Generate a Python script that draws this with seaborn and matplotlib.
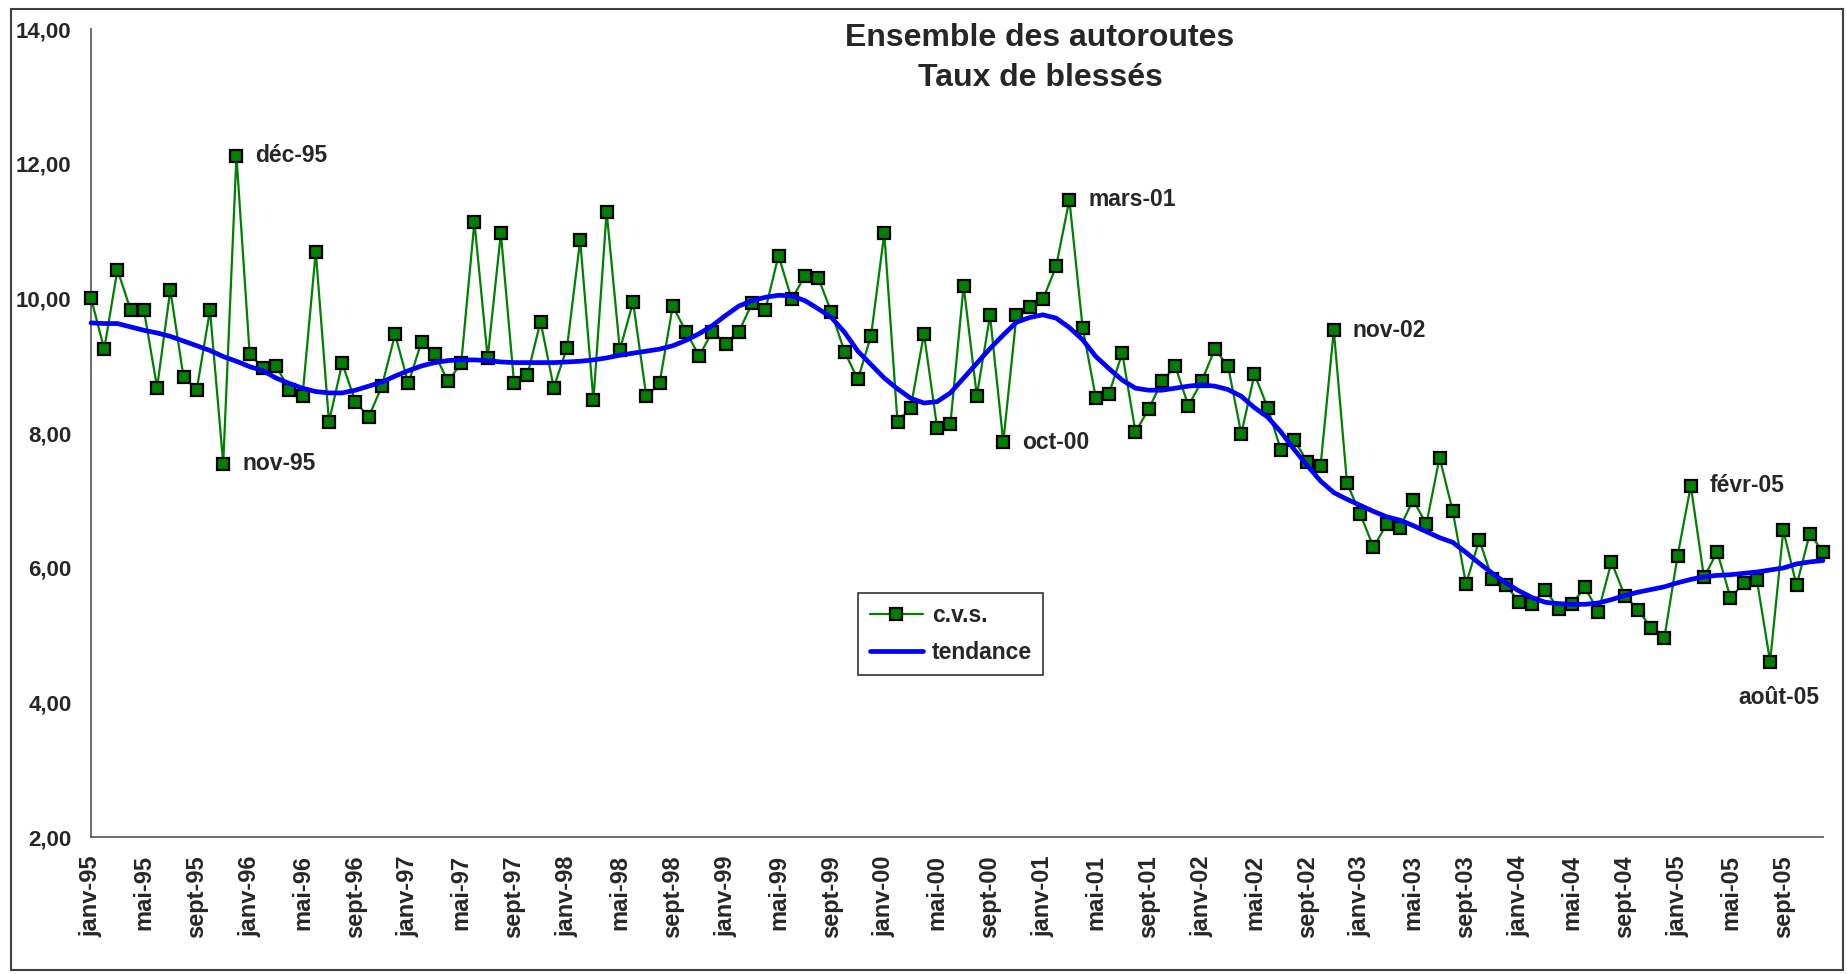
import numpy as np
import pandas as pd
import matplotlib
matplotlib.use("Agg")
import matplotlib.pyplot as plt
import seaborn as sns
from matplotlib.patches import Rectangle

# mois en français
mois_fr = ['janv', 'févr', 'mars', 'avr', 'mai', 'juin',
           'juil', 'août', 'sept', 'oct', 'nov', 'déc']
annees = list(range(1995, 2006))

# série corrigée des variations saisonnières (janv-95 -> déc-05)
cvs = [10.01, 9.25, 10.43, 9.83, 9.83, 8.68, 10.13, 8.83, 8.65, 9.83, 7.55, 12.12,
       9.18, 8.97, 9.00, 8.65, 8.56, 10.70, 8.17, 9.04, 8.47, 8.24, 8.70, 9.47,
       8.74, 9.36, 9.18, 8.77, 9.04, 11.14, 9.12, 10.97, 8.74, 8.86, 9.66, 8.68,
       9.27, 10.87, 8.49, 11.29, 9.24, 9.95, 8.55, 8.74, 9.89, 9.51, 9.15, 9.51,
       9.33, 9.51, 9.93, 9.83, 10.64, 9.99, 10.34, 10.31, 9.80, 9.21, 8.80, 9.45,
       10.97, 8.17, 8.38, 9.48, 8.08, 8.14, 10.19, 8.56, 9.75, 7.87, 9.75, 9.87,
       9.99, 10.48, 11.47, 9.57, 8.53, 8.59, 9.19, 8.02, 8.36, 8.77, 9.00, 8.41,
       8.77, 9.25, 9.00, 7.99, 8.88, 8.38, 7.75, 7.90, 7.58, 7.52, 9.53, 7.26,
       6.80, 6.31, 6.65, 6.60, 7.01, 6.65, 7.64, 6.84, 5.76, 6.42, 5.83, 5.75,
       5.50, 5.47, 5.68, 5.39, 5.47, 5.71, 5.35, 6.09, 5.59, 5.38, 5.11, 4.96,
       6.18, 7.22, 5.86, 6.24, 5.56, 5.77, 5.82, 4.61, 6.56, 5.74, 6.51, 6.24]

# tendance
tendance = [9.64, 9.63, 9.63, 9.58, 9.53, 9.49, 9.44, 9.37, 9.30, 9.23, 9.14, 9.07,
            8.99, 8.93, 8.82, 8.74, 8.67, 8.62, 8.60, 8.60, 8.64, 8.70, 8.76, 8.85,
            8.93, 9.00, 9.05, 9.08, 9.09, 9.09, 9.08, 9.06, 9.05, 9.05, 9.05, 9.05,
            9.06, 9.07, 9.09, 9.12, 9.16, 9.19, 9.22, 9.25, 9.30, 9.38, 9.48, 9.60,
            9.75, 9.89, 9.97, 10.02, 10.05, 10.04, 9.97, 9.85, 9.72, 9.50, 9.22, 9.02,
            8.82, 8.66, 8.52, 8.45, 8.47, 8.60, 8.82, 9.04, 9.26, 9.46, 9.65, 9.72,
            9.76, 9.71, 9.57, 9.39, 9.14, 8.96, 8.79, 8.67, 8.64, 8.64, 8.67, 8.70,
            8.72, 8.70, 8.65, 8.55, 8.38, 8.24, 8.02, 7.76, 7.52, 7.29, 7.12, 7.02,
            6.93, 6.84, 6.76, 6.71, 6.63, 6.54, 6.45, 6.38, 6.23, 6.07, 5.92, 5.78,
            5.66, 5.56, 5.49, 5.47, 5.46, 5.46, 5.48, 5.53, 5.59, 5.64, 5.68, 5.72,
            5.78, 5.83, 5.87, 5.89, 5.90, 5.92, 5.94, 5.97, 6.00, 6.06, 6.09, 6.11]

# points remarquables (indice du mois, texte)
points_notes = [(11, 'déc-95'), (10, 'nov-95'), (74, 'mars-01'), (69, 'oct-00'),
                (94, 'nov-02'), (121, 'févr-05'), (127, 'août-05')]

labels_mois = [f"{m}-{str(a)[2:]}" for a in annees for m in mois_fr]
df = pd.DataFrame({'idx': np.arange(len(cvs)), 'cvs': cvs, 'tendance': tendance,
                   'mois': labels_mois})

sns.set_style("white")
plt.rcParams['font.family'] = ['Liberation Sans', 'DejaVu Sans']
plt.rcParams['font.weight'] = 'bold'

fig = plt.figure(figsize=(18.47, 9.74), dpi=100)
ax = fig.add_axes([91/1847, 1 - 837.3/974, (1823 - 91)/1847, (837.3 - 29.3)/974])

sns.lineplot(data=df, x='idx', y='cvs', ax=ax, color='#008000', lw=1.6,
             marker='s', markersize=8, markerfacecolor='#008000',
             markeredgecolor='black', markeredgewidth=1.6, label='c.v.s.',
             zorder=3, clip_on=False)
sns.lineplot(data=df, x='idx', y='tendance', ax=ax, color='#0000FF', lw=3.4,
             label='tendance', zorder=4, clip_on=False)

ax.set_xlim(0, len(cvs) - 1)
ax.set_ylim(2, 14)
ax.set_yticks(np.arange(2, 15, 2))
ax.set_yticklabels([f"{v:.2f}".replace('.', ',') for v in np.arange(2, 15, 2)],
                   fontsize=16, fontweight='bold')
ticks_x = df['idx'][::4]
ax.set_xticks(ticks_x)
ax.set_xticklabels(df['mois'][::4], rotation=90, fontsize=17, fontweight='bold')
ax.tick_params(axis='both', direction='out', length=5, width=1.2, color='#606060')
ax.tick_params(axis='x', pad=8)
ax.tick_params(axis='y', pad=9)
ax.set_xlabel('')
ax.set_ylabel('')

for side in ['top', 'right']:
    ax.spines[side].set_visible(False)
for side in ['left', 'bottom']:
    ax.spines[side].set_color('#606060')
    ax.spines[side].set_linewidth(1.3)

# annotations
for i, txt in points_notes:
    if txt == 'août-05':
        ax.annotate(txt, (i, cvs[i]), xytext=(9, -36), textcoords='offset pixels',
                    ha='center', va='center', fontsize=16.5, fontweight='bold')
    else:
        ax.annotate(txt, (i, cvs[i]), xytext=(19, 0), textcoords='offset pixels',
                    ha='left', va='center', fontsize=16.5, fontweight='bold')

leg = ax.legend(loc='upper left', bbox_to_anchor=(0.4365, 0.317), frameon=True,
                fancybox=False, edgecolor='black', fontsize=16.5, handlelength=2.3,
                borderpad=0.5, labelspacing=0.6, handletextpad=0.4)
leg.get_frame().set_linewidth(1.2)
for t in leg.get_texts():
    t.set_fontweight('bold')

fig.text(1040/1847, 1 - 58/974, "Ensemble des autoroutes\nTaux de blessés",
         ha='center', va='center', fontsize=23, fontweight='bold', linespacing=1.4)

fig.patches.append(Rectangle((11/1847, 4/974), 1832/1847, 961/974,
                             transform=fig.transFigure, fill=False,
                             edgecolor='#404040', linewidth=1.5))

fig.savefig('out.png', dpi=100)
